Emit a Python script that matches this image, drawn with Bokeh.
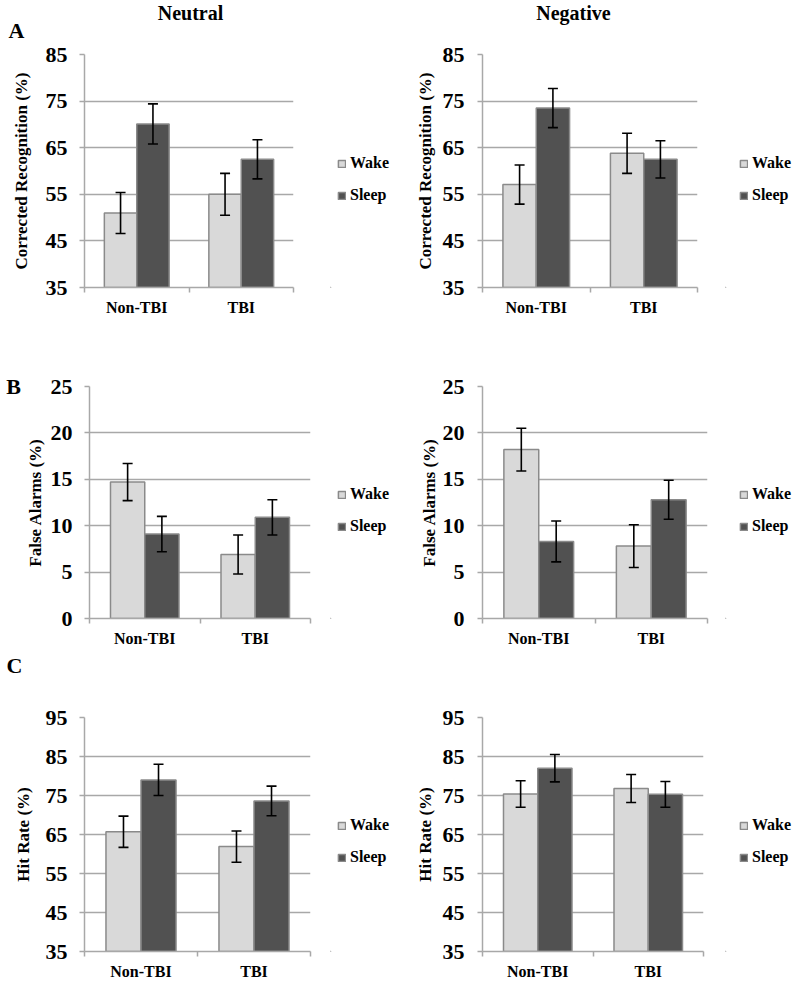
from bokeh.plotting import figure
from bokeh.models import (ColumnDataSource, Whisker, TeeHead, FixedTicker, Legend,
                          LegendItem, Label)
from bokeh.layouts import column, row
from bokeh.embed import file_html
from bokeh.resources import INLINE

# ---------------- data ----------------
groups = ["Non-TBI", "TBI"]
conditions = ["Wake", "Sleep"]
columns_titles = ["Neutral", "Negative"]
panel_letters = ["A", "B", "C"]

# A: Corrected Recognition (%)
cr_neutral_wake = [51.0, 55.0]
cr_neutral_wake_err = [4.4, 4.5]
cr_neutral_sleep = [70.1, 62.5]
cr_neutral_sleep_err = [4.3, 4.2]
cr_negative_wake = [57.1, 63.8]
cr_negative_wake_err = [4.2, 4.3]
cr_negative_sleep = [73.5, 62.5]
cr_negative_sleep_err = [4.2, 4.0]

# B: False Alarms (%)
fa_neutral_wake = [14.7, 6.9]
fa_neutral_wake_err = [2.0, 2.1]
fa_neutral_sleep = [9.1, 10.9]
fa_neutral_sleep_err = [1.9, 1.9]
fa_negative_wake = [18.2, 7.8]
fa_negative_wake_err = [2.3, 2.3]
fa_negative_sleep = [8.3, 12.8]
fa_negative_sleep_err = [2.2, 2.1]

# C: Hit Rate (%)
hr_neutral_wake = [65.7, 61.9]
hr_neutral_wake_err = [4.0, 4.0]
hr_neutral_sleep = [79.0, 73.6]
hr_neutral_sleep_err = [4.0, 3.8]
hr_negative_wake = [75.4, 76.8]
hr_negative_wake_err = [3.4, 3.6]
hr_negative_sleep = [82.0, 75.3]
hr_negative_sleep_err = [3.5, 3.3]

cr_ticks = [35, 45, 55, 65, 75, 85]
fa_ticks = [0, 5, 10, 15, 20, 25]
hr_ticks = [35, 45, 55, 65, 75, 85, 95]

# ---------------- style ----------------
FONT = "Liberation Serif"
WAKE_COLOR = "#d9d9d9"
SLEEP_COLOR = "#515151"
EDGE = "#8a8a8a"
GRID = "#a8a8a8"
BAR_W = 0.31
OFF = 0.155
COLORS = [WAKE_COLOR, SLEEP_COLOR]


def blank(width, height):
    p = figure(width=width, height=height, x_range=(0, 1), y_range=(0, 1),
               x_axis_location=None, y_axis_location=None,
               output_backend="svg", toolbar_location=None, min_border=0)
    p.outline_line_color = None
    p.xgrid.visible = False
    p.ygrid.visible = False
    return p


def text_strip(width, height, items):
    p = blank(width, height)
    for text, x, y, size, baseline in items:
        p.add_layout(Label(x=x, y=y, x_units="screen", y_units="screen",
                           text=text, text_align="center", text_baseline=baseline,
                           text_font=FONT, text_font_style="bold",
                           text_font_size=size, text_color="black"))
    return p


def legend_fig(width, height, loc):
    p = blank(width, height)
    # swatch-only renderers: their single point lies outside the visible range
    rs = [p.vbar(x=[-5.0], top=[-5.0], bottom=-6.0, width=0.1, fill_color=c,
                 line_color=EDGE, line_width=1.5) for c in COLORS]
    legend = Legend(items=[LegendItem(label=c, renderers=[r])
                           for c, r in zip(conditions, rs)], location=loc)
    legend.background_fill_alpha = 0
    legend.border_line_alpha = 0
    legend.padding = 0
    legend.margin = 0
    legend.glyph_width = 9
    legend.glyph_height = 9
    legend.label_height = 18
    legend.spacing = 14
    legend.label_standoff = 4
    legend.label_text_font = FONT
    legend.label_text_font_style = "bold"
    legend.label_text_font_size = "16px"
    legend.label_text_color = "black"
    p.add_layout(legend)
    return p


def panel(width, height, left, right, top, bottom, ticks, ylabel,
          wake, wake_err, sleep, sleep_err, tick_standoff, label_standoff):
    y0, y1 = ticks[0], ticks[-1]
    p = figure(width=width, height=height, x_range=(0, 2), y_range=(y0, y1),
               output_backend="svg", toolbar_location=None,
               min_border_left=left, min_border_top=top,
               min_border_bottom=bottom, min_border_right=right)
    p.outline_line_color = None
    p.xgrid.grid_line_color = None
    p.ygrid.grid_line_color = GRID
    p.ygrid.grid_line_width = 1.5
    p.ygrid.ticker = FixedTicker(ticks=ticks)

    # x axis: labels at category centers, tick marks at category boundaries
    centers = [i + 0.5 for i in range(len(groups))]
    bounds = [float(i) for i in range(len(groups) + 1)]
    p.xaxis.ticker = FixedTicker(ticks=centers, minor_ticks=bounds)
    p.xaxis.major_label_overrides = {c: g for c, g in zip(centers, groups)}
    p.xaxis.major_tick_out = 0
    p.xaxis.major_tick_in = 0
    p.xaxis.minor_tick_out = 5
    p.xaxis.minor_tick_in = 0
    p.xaxis.minor_tick_line_color = GRID
    p.xaxis.minor_tick_line_width = 1.5
    p.xaxis.axis_line_color = GRID
    p.xaxis.axis_line_width = 1.5
    p.xaxis.major_label_standoff = 6
    p.xaxis.major_label_text_font = FONT
    p.xaxis.major_label_text_font_style = "bold"
    p.xaxis.major_label_text_font_size = "16px"
    p.xaxis.major_label_text_color = "black"

    p.yaxis.ticker = FixedTicker(ticks=ticks)
    p.yaxis.major_tick_out = 5
    p.yaxis.major_tick_in = 0
    p.yaxis.minor_tick_line_color = None
    p.yaxis.major_tick_line_color = GRID
    p.yaxis.major_tick_line_width = 1.5
    p.yaxis.axis_line_color = GRID
    p.yaxis.axis_line_width = 1.5
    p.yaxis.major_label_standoff = tick_standoff
    p.yaxis.major_label_text_font = FONT
    p.yaxis.major_label_text_font_style = "bold"
    p.yaxis.major_label_text_font_size = "22px"
    p.yaxis.major_label_text_color = "black"
    p.yaxis.axis_label = ylabel
    p.yaxis.axis_label_text_font = FONT
    p.yaxis.axis_label_text_font_style = "bold"
    p.yaxis.axis_label_text_font_size = "17px"
    p.yaxis.axis_label_text_color = "black"
    p.yaxis.axis_label_standoff = label_standoff

    for vals, errs, off, color in ((wake, wake_err, -OFF, WAKE_COLOR),
                                   (sleep, sleep_err, OFF, SLEEP_COLOR)):
        xs = [i + 0.5 + off for i in range(len(groups))]
        src = ColumnDataSource(dict(
            x=xs, top=vals,
            upper=[v + e for v, e in zip(vals, errs)],
            lower=[v - e for v, e in zip(vals, errs)]))
        p.vbar(x="x", top="top", bottom=y0, width=BAR_W, source=src,
               fill_color=color, line_color=EDGE, line_width=1.5)
        w = Whisker(base="x", upper="upper", lower="lower", source=src,
                    line_color="black", line_width=1.6, level="overlay",
                    upper_head=TeeHead(size=10, line_color="black", line_width=1.6),
                    lower_head=TeeHead(size=10, line_color="black", line_width=1.6))
        p.add_layout(w)
    return p


# ---- row A ----
headA_l = text_strip(400, 42, [(columns_titles[0], 190, 30, "20px", "middle"),
                               (panel_letters[0], 16, 0, "22px", "bottom")])
headA_r = text_strip(395, 42, [(columns_titles[1], 173, 30, "20px", "middle")])
pA1 = panel(330, 288, 84, 37, 12, 43, cr_ticks, "Corrected Recognition (%)",
            cr_neutral_wake, cr_neutral_wake_err, cr_neutral_sleep,
            cr_neutral_sleep_err, 12, 12)
pA2 = panel(325, 288, 82, 28, 12, 43, cr_ticks, "Corrected Recognition (%)",
            cr_negative_wake, cr_negative_wake_err, cr_negative_sleep,
            cr_negative_sleep_err, 13, 5)
legA1 = legend_fig(70, 288, (7, 83))
legA2 = legend_fig(70, 288, (14, 83))

# ---- row B ----
letB = text_strip(22, 90, [(panel_letters[1], 13, 34, "22px", "middle")])
pB1 = panel(308, 320, 62, 20, 56, 32, fa_ticks, "False Alarms (%)",
            fa_neutral_wake, fa_neutral_wake_err, fa_neutral_sleep,
            fa_neutral_sleep_err, 12, 3)
pB2 = panel(325, 320, 82, 18, 56, 32, fa_ticks, "False Alarms (%)",
            fa_negative_wake, fa_negative_wake_err, fa_negative_sleep,
            fa_negative_sleep_err, 13, 1)
legB1 = legend_fig(70, 320, (7, 83))
legB2 = legend_fig(70, 320, (14, 83))

# ---- row C ----
headC = text_strip(795, 40, [(panel_letters[2], 14, 25, "22px", "middle")])
pC1 = panel(330, 292, 84, 20, 27, 31, hr_ticks, "Hit Rate (%)",
            hr_neutral_wake, hr_neutral_wake_err, hr_neutral_sleep,
            hr_neutral_sleep_err, 12, 10)
pC2 = panel(325, 292, 82, 22, 27, 31, hr_ticks, "Hit Rate (%)",
            hr_negative_wake, hr_negative_wake_err, hr_negative_sleep,
            hr_negative_sleep_err, 13, 5)
legC1 = legend_fig(70, 292, (7, 85))
legC2 = legend_fig(70, 292, (14, 85))

layout = column(row(headA_l, headA_r),
                row(pA1, legA1, pA2, legA2),
                row(column(letB), pB1, legB1, pB2, legB2),
                headC,
                row(pC1, legC1, pC2, legC2))
open("out.html", "w").write(file_html(layout, INLINE))
